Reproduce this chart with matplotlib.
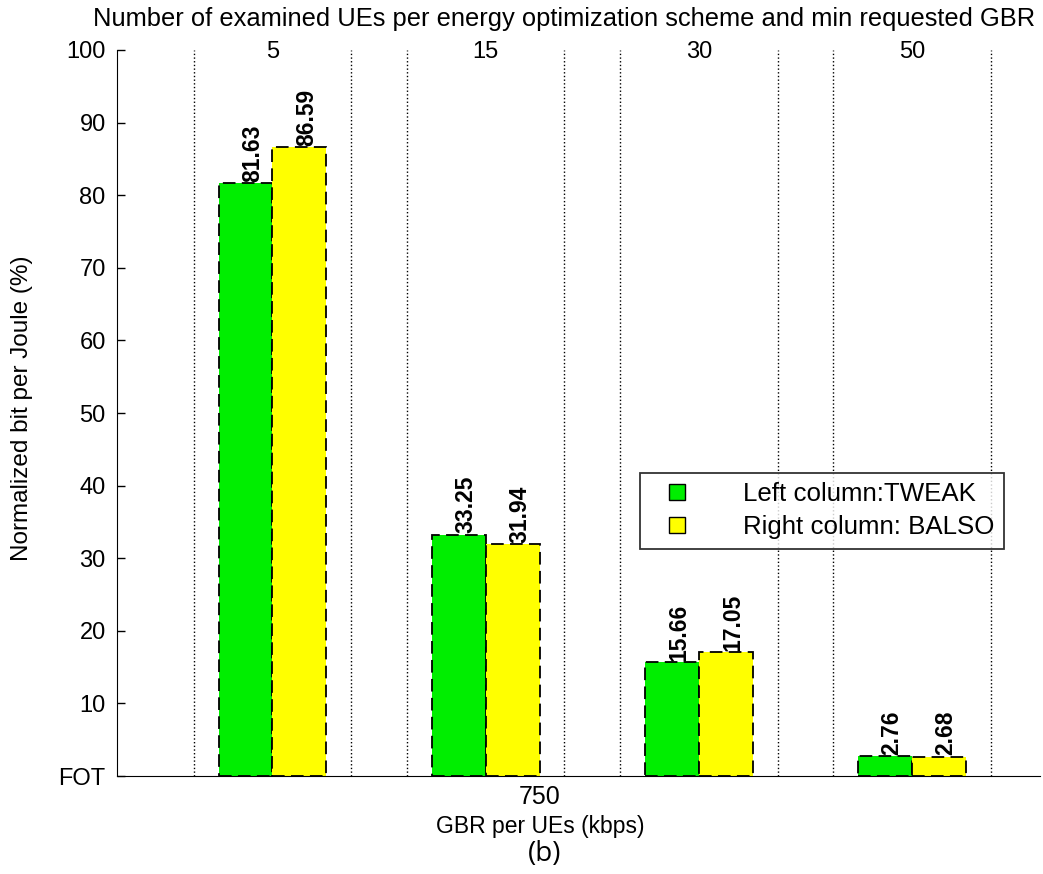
import numpy as np
import matplotlib
matplotlib.use("Agg")
import matplotlib.pyplot as plt
from matplotlib.lines import Line2D
from matplotlib.transforms import blended_transform_factory

plt.rcParams['font.family'] = ['Liberation Sans', 'DejaVu Sans']

ue_counts = ['5', '15', '30', '50']
tweak = [81.63, 33.25, 15.66, 2.76]
balso = [86.59, 31.94, 17.05, 2.68]
ytick_vals = [0, 10, 20, 30, 40, 50, 60, 70, 80, 90, 100]
ytick_labels = ['FOT', '10', '20', '30', '40', '50', '60', '70', '80', '90', '100']

W, H = 1043, 874
fig = plt.figure(figsize=(W / 100, H / 100), dpi=100)
ax = fig.add_axes([0.112, 0.1121, 0.885, 0.8307])

x = np.arange(1, len(ue_counts) + 1)
w = 0.253

b1 = ax.bar(x - w / 2, tweak, w, color='#00ee00', edgecolor='black',
            linestyle=(0, (7, 3.5)), linewidth=1.3)
b2 = ax.bar(x + w / 2, balso, w, color='#ffff00', edgecolor='black',
            linestyle=(0, (7, 3.5)), linewidth=1.3)

for bars, vals in [(b1, tweak), (b2, balso)]:
    for r, v in zip(bars, vals):
        ax.annotate('%.2f' % v, (r.get_x() + r.get_width() / 2, v),
                    xytext=(5, 1), textcoords='offset points',
                    rotation=90, ha='center', va='bottom',
                    fontsize=16.5, fontweight='bold')

# group separators
for c in x:
    ax.axvline(c - 0.37, color='black', linestyle=':', linewidth=1)
    ax.axvline(c + 0.37, color='black', linestyle=':', linewidth=1)

# top labels
trans = blended_transform_factory(ax.transData, ax.transAxes)
for c, lab in zip(x, ue_counts):
    ax.text(c, 0.997, lab, transform=trans, ha='center', va='center', fontsize=17)

ax.set_xlim(0.27, 4.6)
ax.set_ylim(0, 100)
ax.set_yticks(ytick_vals)
ax.set_yticklabels(ytick_labels, fontsize=17)
ax.tick_params(axis='y', direction='in', length=6, width=1, pad=8)
ax.set_xticks([])
ax.spines['top'].set_visible(False)
ax.spines['right'].set_visible(False)

fig.text(22 / W, 1 - 408 / H, 'Normalized bit per Joule (%)', rotation=90,
         ha='center', va='center', fontsize=17.5)
fig.text(540 / W, 1 - 797 / H, '750', ha='center', va='center', fontsize=18)
fig.text(540 / W, 1 - 826 / H, 'GBR per UEs (kbps)', ha='center', va='center', fontsize=16.5)
fig.text(564 / W, 1 - 19 / H,
         'Number of examined UEs per energy optimization scheme and min requested GBR',
         ha='center', va='center', fontsize=18.4)
fig.text(545 / W, 1 - 854 / H, '(b)', ha='center', va='center', fontsize=20,
         family=['Open Sans', 'DejaVu Sans'])

handles = [Line2D([], [], marker='s', linestyle='none', markersize=11,
                  markerfacecolor='#00ee00', markeredgecolor='black'),
           Line2D([], [], marker='s', linestyle='none', markersize=11,
                  markerfacecolor='#ffff00', markeredgecolor='black')]
leg = ax.legend(handles, ['Left column:TWEAK', 'Right column: BALSO'],
                loc='upper left', bbox_to_anchor=(0.567, 0.418),
                fontsize=18.6, fancybox=False, edgecolor='black',
                handletextpad=1.5, borderpad=0.38, labelspacing=0.35,
                borderaxespad=0, handlelength=2.1)
leg.get_frame().set_linewidth(1.3)

fig.savefig('out.png', dpi=100)
